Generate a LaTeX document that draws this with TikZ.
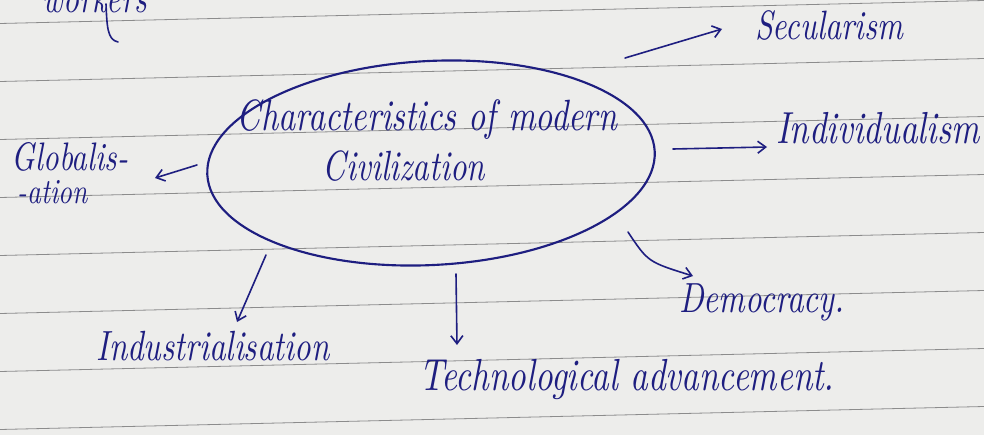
\documentclass[tikz,border=0pt]{standalone}
\usepackage{graphicx}
\usetikzlibrary{arrows.meta,shapes.geometric}
\definecolor{ink}{HTML}{1E1E80}
\definecolor{paper}{HTML}{EDEDEB}
\definecolor{rulec}{HTML}{8C8C8C}
\newlength{\pxu}\setlength{\pxu}{0.75pt}
\newcommand{\hw}[2]{\scalebox{1}[1.3]{\resizebox{#1\pxu}{!}{\itshape #2}}}
\begin{document}
\begin{tikzpicture}[x=0.75pt,y=-0.75pt,
  lbl/.style={text=ink, inner sep=0pt, anchor=base},
  arr/.style={draw=ink, line width=1.2pt, -{Straight Barb[length=6pt,width=9pt]}, line cap=round},
  stroke/.style={draw=ink, line width=1.2pt, line cap=round},
  rulel/.style={draw=rulec, line width=0.6pt}]
\useasboundingbox (0,0) rectangle (984,435);
\fill[paper] (0,0) rectangle (984,435);
\foreach \n in {0,...,7} \draw[rulel] (0,{23.5+58*\n}) -- (984,{0.5+58*\n});
% top-left cut-off word
\node[lbl] (workers) at (95,13) {\hw{104}{workers}};
\draw[stroke] (106,4) .. controls (107,25) and (107,40) .. (118,42);
% central ellipse
\node[draw=ink, line width=1.6pt, ellipse, minimum width=448\pxu, minimum height=204\pxu, rotate=3, inner sep=0pt] (ell) at (431,163) {};
\node[lbl] (t1) at (427,130) {\hw{380}{Characteristics of modern}};
\node[lbl] (t2) at (404,180) {\hw{162}{Civilization}};
% labels
\node[lbl] (sec) at (829,40) {\hw{148}{Secularism}};
\node[lbl] (ind) at (878,143) {\hw{203}{Individualism}};
\node[lbl] (glo1) at (70,170) {\hw{116}{Globalis-}};
\node[lbl] (glo2) at (53,203) {\hw{70}{-ation}};
\node[lbl] (dem) at (762,312) {\hw{165}{Democracy.}};
\node[lbl] (indus) at (213,360) {\hw{233}{Industrialisation}};
\node[lbl] (tech) at (627,390) {\hw{415}{Technological advancement.}};
% arrow ends
\coordinate (s1) at (625,58);  \coordinate (s2) at (722,29);
\coordinate (i1) at (673,149); \coordinate (i2) at (767,147);
\coordinate (g1) at (197,165); \coordinate (g2) at (155,178);
\coordinate (d1) at (628,232); \coordinate (d2) at (693,276);
\coordinate (te1) at (456,274); \coordinate (te2) at (457,345);
\coordinate (in1) at (266,255); \coordinate (in2) at (237,322);
\draw[arr] (s1) -- (s2);
\draw[arr] (i1) -- (i2);
\draw[arr] (g1) -- (g2);
\draw[arr] (d1) .. controls (648,262) .. (d2);
\draw[arr] (te1) -- (te2);
\draw[arr] (in1) -- (in2);
\end{tikzpicture}
\end{document}
